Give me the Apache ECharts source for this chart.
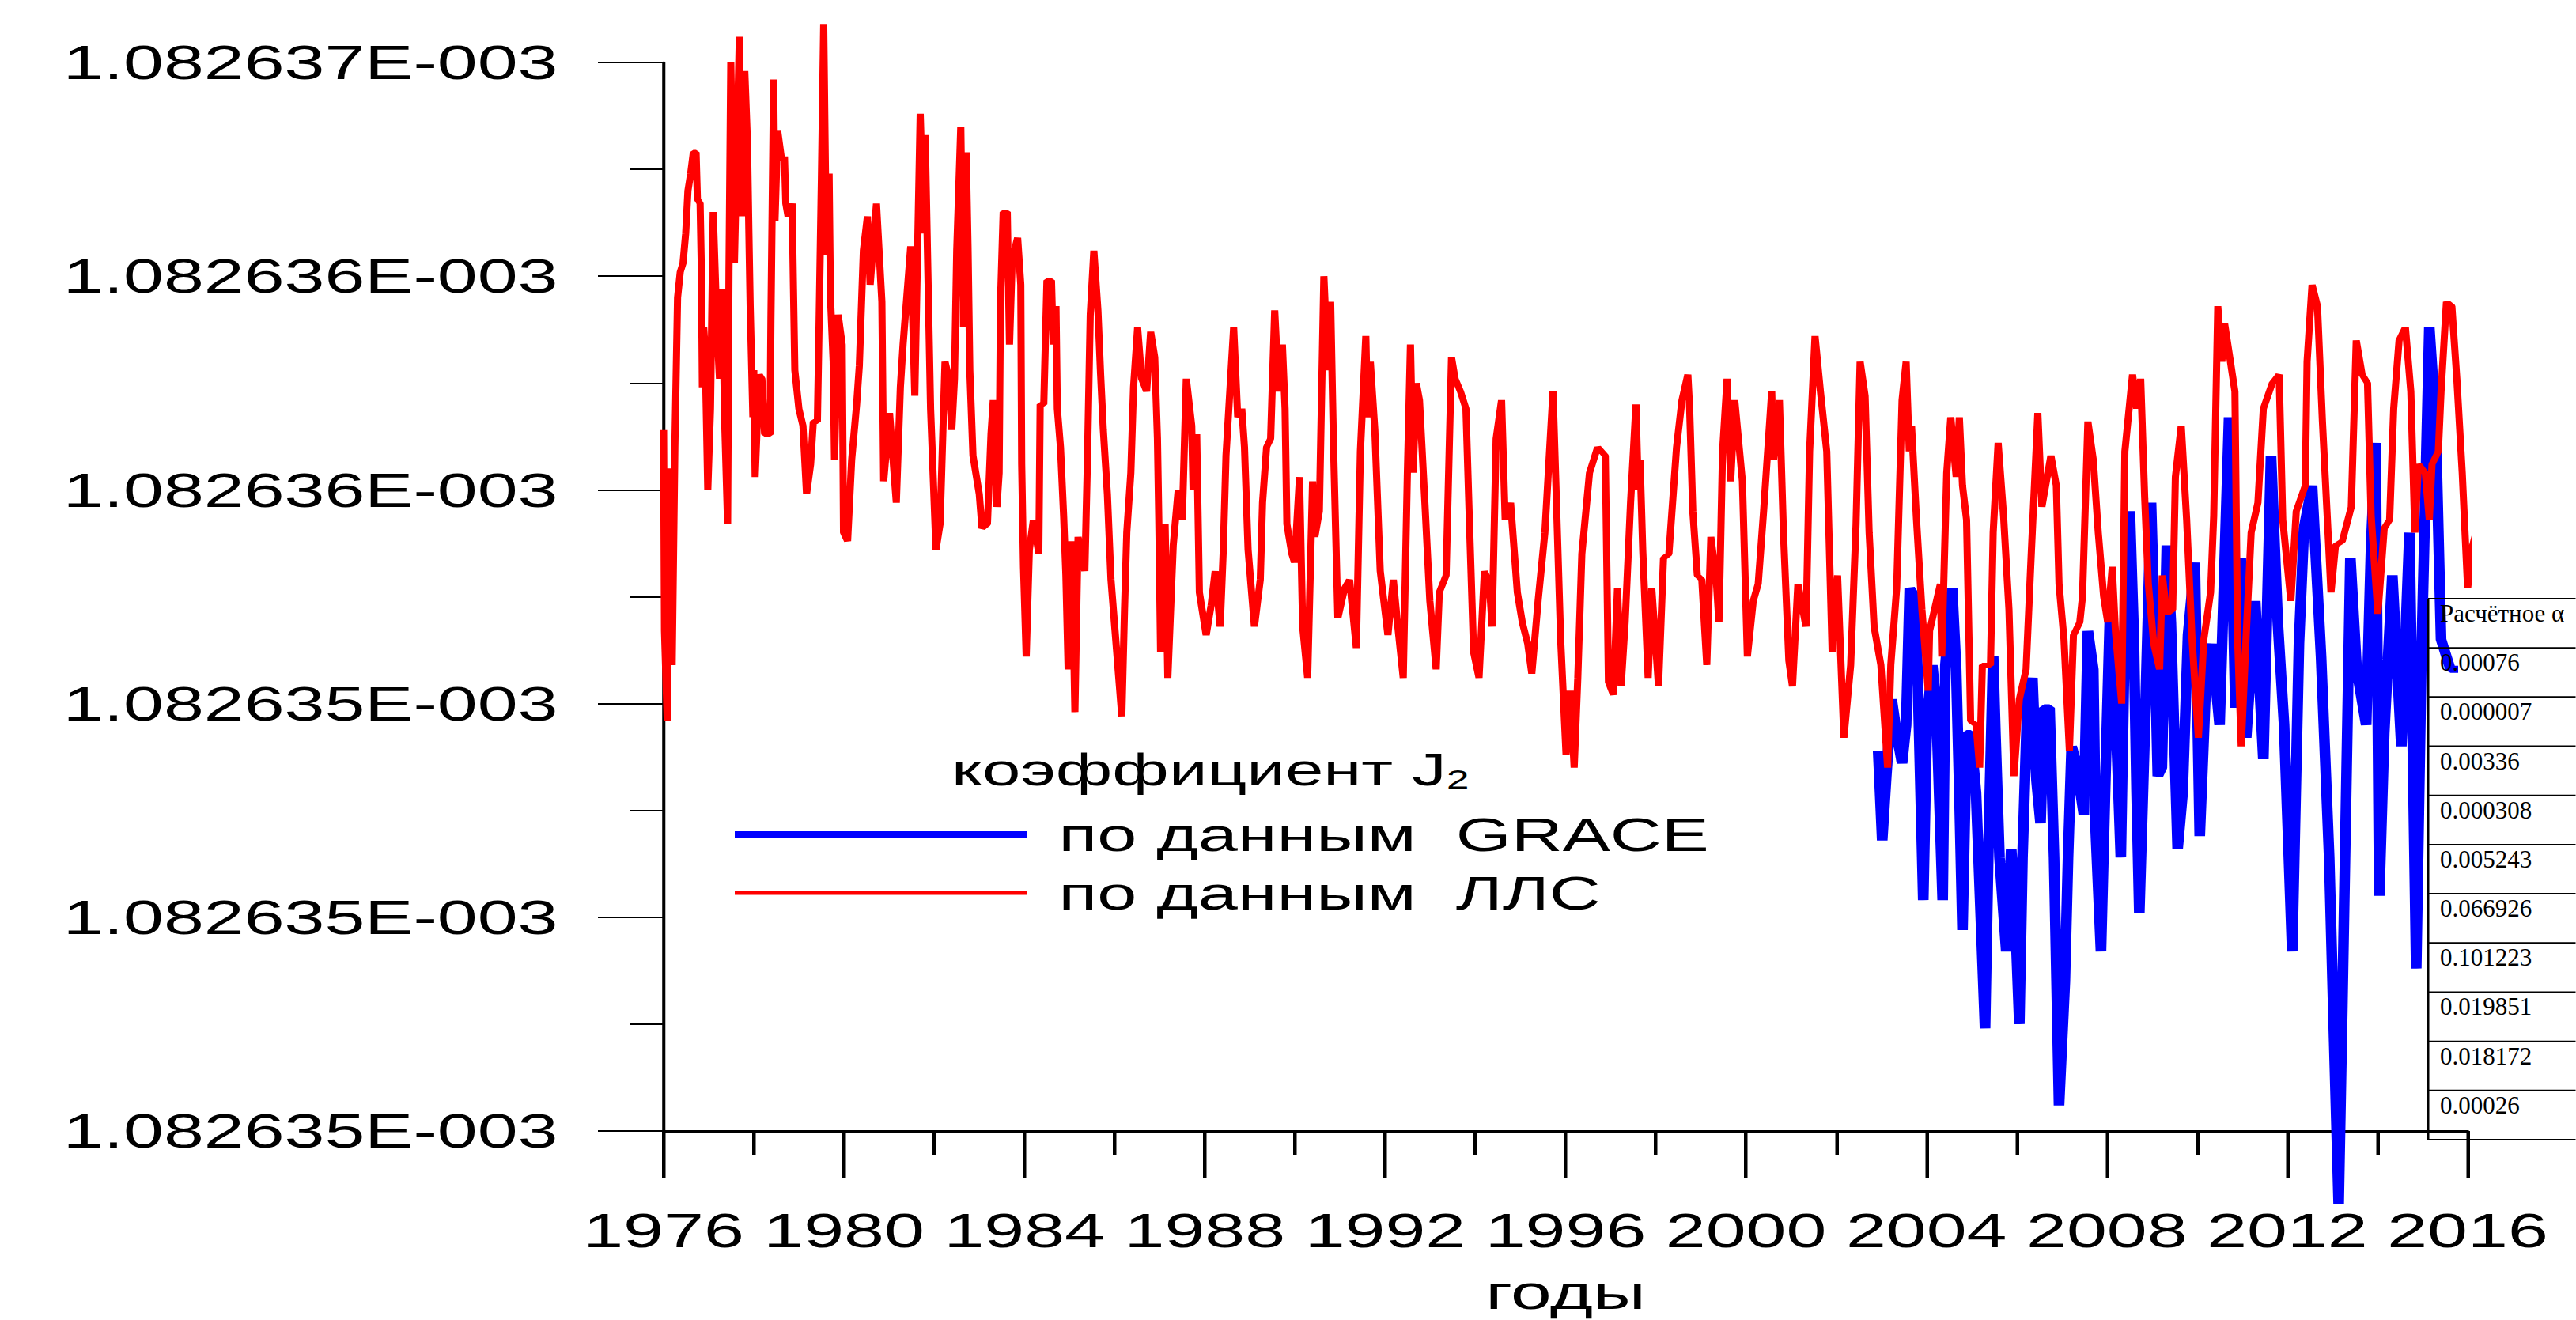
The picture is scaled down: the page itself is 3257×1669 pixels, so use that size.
<!DOCTYPE html>
<html>
<head>
<meta charset="utf-8">
<script src="https://cdn.jsdelivr.net/npm/echarts/dist/echarts.min.js"></script>
<style>
html,body{margin:0;padding:0;background:#fff;overflow:hidden;}
#wrap{position:absolute;left:0;top:0;width:3257px;height:1669px;overflow:hidden;background:#fff;}
#chart{position:absolute;left:0;top:0;height:1669px;transform-origin:0 0;}
</style>
</head>
<body>
<div id="wrap"><div id="chart"></div></div>
<script>
// ---------------- DATA ----------------
// J2 values are stored as (J2 - 1.082634E-003) in units of 1E-012
const yTickValues = [0.5, 1.0, 1.5, 2.0, 2.5, 3.0];
const yTickLabels = ['1.082635E-003','1.082635E-003','1.082635E-003','1.082636E-003','1.082636E-003','1.082637E-003'];
const xTickLabels = ['1976','1980','1984','1988','1992','1996','2000','2004','2008','2012','2016'];

const seriesNames = ['по данным\u00a0\u00a0GRACE', 'по данным\u00a0\u00a0ЛЛС'];
const legendTitle = 'коэффициент J';
const legendTitleSub = '2';
const xAxisName = 'годы';

const tableHeader = 'Расчётное α';
const tableValues = ['0.00076','0.000007','0.00336','0.000308','0.005243','0.066926','0.101223','0.019851','0.018172','0.00026'];

// ЛЛС (SLR) series
const llsYears = [
1976.00,1976.02,1976.08,1976.13,1976.19,1976.25,1976.31,1976.37,1976.43,1976.49,1976.54,1976.60,1976.66,1976.72,1976.75,1976.81,1976.84,1976.86,1976.89,1976.92,1976.98,
1977.04,1977.10,1977.19,1977.24,1977.30,1977.36,1977.42,1977.45,1977.49,1977.57,1977.68,1977.74,1977.80,1977.86,1977.89,1977.92,1977.98,
1978.00,1978.03,1978.12,1978.18,1978.24,1978.36,1978.38,1978.44,1978.47,1978.53,1978.62,1978.68,1978.71,1978.76,1978.85,1978.88,1978.91,
1979.00,1979.09,1979.17,1979.26,1979.32,1979.41,1979.44,1979.50,1979.55,1979.61,1979.67,1979.70,1979.76,1979.79,1979.87,1979.96,1979.99,
1980.08,1980.17,1980.28,1980.34,1980.43,1980.52,1980.58,1980.72,1980.84,1980.88,
1981.01,1981.16,1981.25,1981.31,1981.48,1981.57,1981.69,1981.77,1981.80,1981.86,1981.92,
1982.04,1982.13,1982.24,1982.33,1982.39,1982.45,1982.50,1982.59,1982.65,1982.71,1982.75,1982.79,1982.86,
1983.00,1983.06,1983.18,1983.26,1983.31,1983.39,1983.44,1983.47,1983.53,1983.62,1983.67,1983.73,1983.85,1983.92,1983.94,1983.98,
1984.04,1984.11,1984.20,1984.32,1984.35,1984.43,1984.50,1984.60,1984.64,1984.70,1984.73,1984.80,1984.87,1984.92,1984.97,
1985.05,1985.12,1985.19,1985.34,1985.40,1985.46,1985.54,1985.63,1985.69,1985.75,1985.84,1985.92,
1986.01,1986.16,1986.22,1986.27,1986.36,1986.42,1986.51,1986.60,1986.71,1986.80,1986.89,1986.95,1986.98,
1987.02,1987.12,1987.18,1987.30,1987.41,1987.50,1987.59,1987.71,1987.74,1987.82,1987.88,
1988.03,1988.14,1988.23,1988.34,1988.41,1988.47,1988.64,1988.73,1988.82,1988.88,1988.96,
1989.10,1989.23,1989.28,1989.37,1989.46,1989.55,1989.64,1989.72,1989.78,1989.82,1989.93,1989.99,
1990.10,1990.17,1990.28,1990.39,1990.44,1990.54,1990.64,1990.73,1990.79,1990.85,1990.95,
1991.10,1991.21,1991.36,1991.45,1991.57,1991.61,1991.67,1991.77,1991.89,
1992.06,1992.18,1992.27,1992.40,1992.49,1992.56,1992.62,1992.69,1992.76,1992.88,1992.99,
1993.13,1993.20,1993.35,1993.47,1993.55,1993.67,1993.79,1993.86,1993.96,
1994.08,1994.20,1994.31,1994.37,1994.46,1994.58,1994.66,1994.78,1994.93,
1995.04,1995.16,1995.25,1995.39,1995.54,1995.72,1995.80,1995.89,
1996.01,1996.10,1996.19,1996.27,1996.36,1996.53,1996.71,1996.88,1996.95,
1997.06,1997.15,1997.23,1997.32,1997.44,1997.56,1997.61,1997.65,1997.71,1997.83,1997.91,
1998.06,1998.17,1998.29,1998.46,1998.58,1998.71,1998.75,1998.82,1998.92,
1999.02,1999.13,1999.22,1999.34,1999.40,1999.48,1999.58,1999.66,1999.75,1999.92,
2000.03,2000.16,2000.27,2000.39,2000.57,2000.61,2000.74,2000.83,2000.95,
2001.03,2001.15,2001.33,2001.41,2001.53,2001.65,2001.79,2001.91,
2002.03,2002.17,2002.32,2002.44,2002.53,2002.64,2002.73,2002.84,2002.99,
2003.14,2003.21,2003.34,2003.46,2003.55,2003.62,2003.67,2003.78,2003.90,
2004.04,2004.07,2004.31,2004.34,2004.45,2004.54,2004.66,2004.73,2004.80,2004.89,2004.98,
2005.10,2005.18,2005.24,2005.42,2005.48,2005.59,2005.71,2005.83,2005.94,
2006.06,2006.21,2006.32,2006.47,2006.56,2006.76,2006.88,2006.94,
2007.05,2007.17,2007.26,2007.40,2007.46,2007.58,2007.70,2007.81,2007.93,
2008.02,2008.12,2008.19,2008.33,2008.40,2008.57,2008.66,2008.75,2008.84,2008.92,
2009.04,2009.17,2009.23,2009.33,2009.46,2009.52,2009.65,2009.77,2009.89,
2010.03,2010.15,2010.30,2010.37,2010.46,2010.55,2010.61,2010.74,2010.84,2010.90,2010.98,
2011.09,2011.20,2011.35,2011.47,2011.67,2011.82,2011.90,
2012.08,2012.20,2012.40,2012.44,2012.55,2012.67,2012.78,2012.90,2012.97,
2013.07,2013.22,2013.42,2013.53,2013.66,2013.78,2013.86,
2014.01,2014.15,2014.27,2014.36,2014.48,2014.62,2014.74,2014.83,2014.91,
2015.06,2015.15,2015.21,2015.35,2015.41,2015.53,2015.65,2015.76,2015.88,
2016.00,2016.11,2016.26];
const llsDJ2 = [
2.14,1.67,1.46,2.05,1.59,2.10,2.45,2.51,2.53,2.60,2.70,2.74,2.79,2.79,2.68,2.67,2.50,2.24,2.38,2.33,2.00,
2.19,2.65,2.36,2.26,2.47,2.14,1.92,2.51,3.00,2.53,3.06,2.64,2.98,2.81,2.61,2.43,2.17,
2.28,2.03,2.27,2.26,2.13,2.13,2.40,2.96,2.63,2.84,2.77,2.78,2.67,2.64,2.67,2.47,2.28,
2.19,2.15,1.99,2.06,2.16,2.16,2.34,2.73,3.09,2.55,2.74,2.45,2.30,2.07,2.41,2.34,1.90,
1.88,2.07,2.20,2.29,2.56,2.64,2.48,2.67,2.44,2.02,
2.18,1.97,2.24,2.34,2.57,2.22,2.88,2.60,2.83,2.51,2.19,
1.86,1.92,2.30,2.26,2.14,2.26,2.56,2.85,2.38,2.79,2.57,2.28,2.08,
1.99,1.91,1.92,2.13,2.21,1.96,2.04,2.44,2.65,2.65,2.34,2.54,2.59,2.48,2.06,1.82,
1.61,1.86,1.93,1.85,2.20,2.20,2.49,2.49,2.34,2.43,2.19,2.10,1.94,1.80,1.58,
1.88,1.48,1.89,1.81,2.08,2.41,2.56,2.42,2.27,2.14,1.99,1.79,
1.67,1.47,1.72,1.90,2.04,2.24,2.38,2.26,2.23,2.37,2.31,2.12,1.93,
1.62,1.92,1.56,1.87,2.00,1.93,2.26,2.15,2.00,2.13,1.76,
1.66,1.73,1.81,1.68,1.86,2.08,2.38,2.17,2.19,2.10,1.86,
1.68,1.79,1.97,2.10,2.12,2.42,2.23,2.34,2.19,1.92,1.85,1.83,
2.03,1.68,1.56,2.02,1.89,1.95,2.50,2.28,2.44,2.12,1.70,
1.77,1.79,1.63,2.09,2.36,2.17,2.30,2.14,1.81,
1.66,1.79,1.69,1.56,2.03,2.34,2.04,2.25,2.21,1.97,1.74,
1.58,1.76,1.80,2.31,2.26,2.23,2.19,1.95,1.62,
1.56,1.81,1.78,1.68,2.12,2.21,1.93,1.97,1.76,
1.69,1.64,1.57,1.74,1.90,2.23,1.96,1.65,
1.38,1.53,1.35,1.56,1.85,2.04,2.10,2.08,1.55,
1.52,1.77,1.54,1.69,1.97,2.20,2.00,2.07,1.86,1.56,1.77,
1.54,1.84,1.85,2.10,2.21,2.27,2.19,1.95,1.80,
1.79,1.59,1.89,1.79,1.69,2.09,2.26,2.02,2.21,2.02,
1.61,1.74,1.78,1.95,2.23,2.07,2.21,1.90,1.60,
1.54,1.78,1.68,2.09,2.36,2.23,2.09,1.62,
1.80,1.42,1.59,1.92,2.30,2.22,1.90,1.68,1.59,
1.35,1.59,1.77,2.21,2.30,2.09,2.15,1.93,1.72,
1.53,1.67,1.78,1.61,2.04,2.17,2.03,2.17,2.01,1.93,1.46,
1.45,1.35,1.59,1.59,1.90,2.11,1.94,1.72,1.33,
1.51,1.58,1.84,2.18,1.96,2.08,2.01,1.78,
1.65,1.39,1.66,1.69,1.75,2.16,2.07,1.90,1.75,
1.69,1.82,1.67,1.50,2.09,2.27,2.19,2.26,1.98,1.78,
1.64,1.58,1.80,1.71,1.72,2.03,2.15,1.93,1.65,
1.42,1.65,1.76,1.94,2.43,2.30,2.39,2.30,2.23,1.65,1.40,
1.66,1.90,1.97,2.19,2.25,2.27,1.93,
1.74,1.95,2.01,2.30,2.48,2.43,2.16,1.91,1.76,
1.87,1.88,1.96,2.35,2.27,2.25,1.94,
1.71,1.91,1.93,2.19,2.35,2.38,2.23,1.90,2.06,
2.04,1.93,2.06,2.09,2.23,2.44,2.43,2.26,2.04,
1.77,1.87,1.93];

// GRACE series
const graceYears = [
2002.93,2003.02,2003.11,2003.23,2003.34,2003.46,2003.55,2003.63,2003.75,2003.81,2003.93,
2004.01,2004.13,2004.22,2004.36,2004.42,2004.57,2004.66,2004.73,2004.80,2004.89,2004.98,
2005.10,2005.30,2005.37,2005.48,2005.53,2005.62,2005.77,2005.88,2005.97,
2006.06,2006.13,2006.24,2006.35,2006.44,2006.53,2006.61,2006.73,2006.83,2006.94,
2007.07,2007.14,2007.22,2007.32,2007.49,2007.58,2007.70,2007.75,2007.87,2007.96,
2008.08,2008.16,2008.31,2008.40,2008.51,2008.60,2008.66,2008.72,2008.84,2008.98,
2009.04,2009.13,2009.22,2009.33,2009.42,2009.57,2009.68,2009.80,2009.95,
2010.06,2010.21,2010.33,2010.50,2010.71,2010.85,2010.97,
2011.09,2011.29,2011.47,2011.64,2011.79,2011.93,
2012.11,2012.26,2012.37,2012.55,2012.75,2012.93,
2013.04,2013.14,2013.22,2013.40,2013.54,2013.75,2013.86,2013.96,
2014.04,2014.15,2014.33,2014.53,2014.71,2014.86,2014.97,
2015.15,2015.29,2015.41,2015.62,2015.79];
const graceDJ2 = [
1.39,1.18,1.33,1.51,1.43,1.36,1.45,1.77,1.75,1.55,1.04,
1.46,1.59,1.49,1.04,1.59,1.77,1.58,1.29,0.97,1.43,1.43,
1.29,0.74,1.14,1.61,1.43,1.14,0.92,1.16,1.00,
0.75,1.14,1.51,1.56,1.32,1.22,1.49,1.49,1.14,0.56,
0.85,1.14,1.40,1.36,1.24,1.67,1.58,1.21,0.92,1.29,
1.75,1.58,1.14,1.69,1.95,1.65,1.29,1.01,1.43,1.97,
1.75,1.33,1.35,1.87,1.69,1.16,1.29,1.66,1.83,
1.19,1.58,1.64,1.45,2.17,1.49,1.84,
1.42,1.74,1.37,2.08,1.69,1.45,
0.92,1.64,1.91,2.01,1.61,1.14,
0.71,0.33,0.78,1.84,1.58,1.45,1.87,2.11,
1.05,1.43,1.80,1.40,1.90,0.88,1.58,
2.38,2.16,1.65,1.58,1.58];

// ---------------- LAYOUT ----------------
// the original picture is stretched horizontally; the chart is drawn in a narrower
// frame and widened by S
const S = 1.5;
const FULL_W = 3257, FULL_H = 1669;
const W = FULL_W / S;
const el = document.getElementById('chart');
el.style.width = W + 'px';
el.style.transform = 'scaleX(' + S + ')';

const chart = echarts.init(el, null, {renderer: 'svg', width: W, height: FULL_H});

const pairs = (xs, ys) => xs.map((x, i) => [x, ys[i]]);

// table graphic
const tblLeft = 3070 / S, tblRight = FULL_W / S + 30, tblTop = 757, tblBottom = 1441;
const rowH = (tblBottom - tblTop) / (tableValues.length + 1);
const tableTexts = [tableHeader].concat(tableValues);
const graphics = [];
graphics.push({type: 'line', z: 100, shape: {x1: tblLeft, y1: tblTop, x2: tblLeft, y2: tblBottom}, style: {stroke: '#000', lineWidth: 2}});
for (let i = 0; i <= tableTexts.length; i++) {
  const y = tblTop + i * rowH;
  graphics.push({type: 'line', z: 100, shape: {x1: tblLeft, y1: y, x2: tblRight, y2: y}, style: {stroke: '#000', lineWidth: 2}});
}
tableTexts.forEach((t, i) => {
  graphics.push({
    type: 'text', z: 101, x: 3085 / S, y: tblTop + i * rowH + 18.5, scaleX: 1 / S,
    style: {text: t, fill: '#000', fontSize: 31, fontFamily: '"Liberation Serif", serif', align: 'left', verticalAlign: 'middle'}
  });
});

const FONT = '"Liberation Sans", Arial, sans-serif';

const option = {
  animation: false,
  backgroundColor: '#fff',
  title: {
    text: legendTitle + '{s|' + legendTitleSub + '}',
    left: 1203 / S, top: 944, padding: 0,
    textStyle: {
      color: '#000', fontFamily: FONT, fontSize: 58, fontWeight: 'normal',
      rich: {s: {color: '#000', fontFamily: FONT, fontSize: 34, verticalAlign: 'bottom'}}
    }
  },
  legend: [
    {
      data: [{name: seriesNames[0], icon: 'rect'}],
      left: 929 / S, top: 1025, padding: 0, itemWidth: 369 / S, itemHeight: 8,
      selectedMode: false,
      textStyle: {color: '#000', fontFamily: FONT, fontSize: 60, padding: [0, 0, 0, 22]}
    },
    {
      data: [{name: seriesNames[1], icon: 'rect'}],
      left: 929 / S, top: 1099, padding: 0, itemWidth: 369 / S, itemHeight: 5,
      selectedMode: false,
      textStyle: {color: '#000', fontFamily: FONT, fontSize: 60, padding: [0, 0, 0, 22]}
    }
  ],
  grid: {left: 839 / S, right: W - 3120 / S, top: 79, bottom: FULL_H - 1441},
  xAxis: {
    type: 'value', min: 1976, max: 2016, interval: 4,
    axisLine: {show: true, onZero: false, lineStyle: {color: '#000', width: 3}},
    axisTick: {show: true, length: 60, lineStyle: {color: '#000', width: 3}},
    minorTick: {show: true, splitNumber: 2, length: 30, lineStyle: {color: '#000', width: 3}},
    splitLine: {show: false},
    minorSplitLine: {show: false},
    axisLabel: {
      color: '#000', fontFamily: FONT, fontSize: 61, margin: 95,
      formatter: v => xTickLabels[Math.round((v - 1976) / 4)]
    },
    name: xAxisName, nameLocation: 'middle', nameGap: 172,
    nameTextStyle: {color: '#000', fontFamily: FONT, fontSize: 62}
  },
  yAxis: {
    type: 'value', min: 0.5, max: 3.0, interval: 0.5,
    axisLine: {show: true, lineStyle: {color: '#000', width: 2.7}},
    axisTick: {show: true, length: 83 / S, lineStyle: {color: '#000', width: 2}},
    minorTick: {show: true, splitNumber: 2, length: 42 / S, lineStyle: {color: '#000', width: 2}},
    splitLine: {show: false},
    minorSplitLine: {show: false},
    axisLabel: {
      color: '#000', fontFamily: FONT, fontSize: 61, margin: 89,
      formatter: v => yTickLabels[Math.round((v - yTickValues[0]) / 0.5)]
    }
  },
  series: [
    {
      name: seriesNames[0], type: 'line', data: pairs(graceYears, graceDJ2),
      showSymbol: false, symbol: 'none', clip: false, z: 2,
      lineStyle: {color: '#0000ff', width: 9, join: 'bevel'}, itemStyle: {color: '#0000ff'}
    },
    {
      name: seriesNames[1], type: 'line', data: pairs(llsYears, llsDJ2),
      showSymbol: false, symbol: 'none', clip: false, z: 3,
      lineStyle: {color: '#ff0000', width: 6, join: 'bevel'}, itemStyle: {color: '#ff0000'}
    }
  ],
  graphic: graphics
};
chart.setOption(option);
</script>
</body>
</html>
